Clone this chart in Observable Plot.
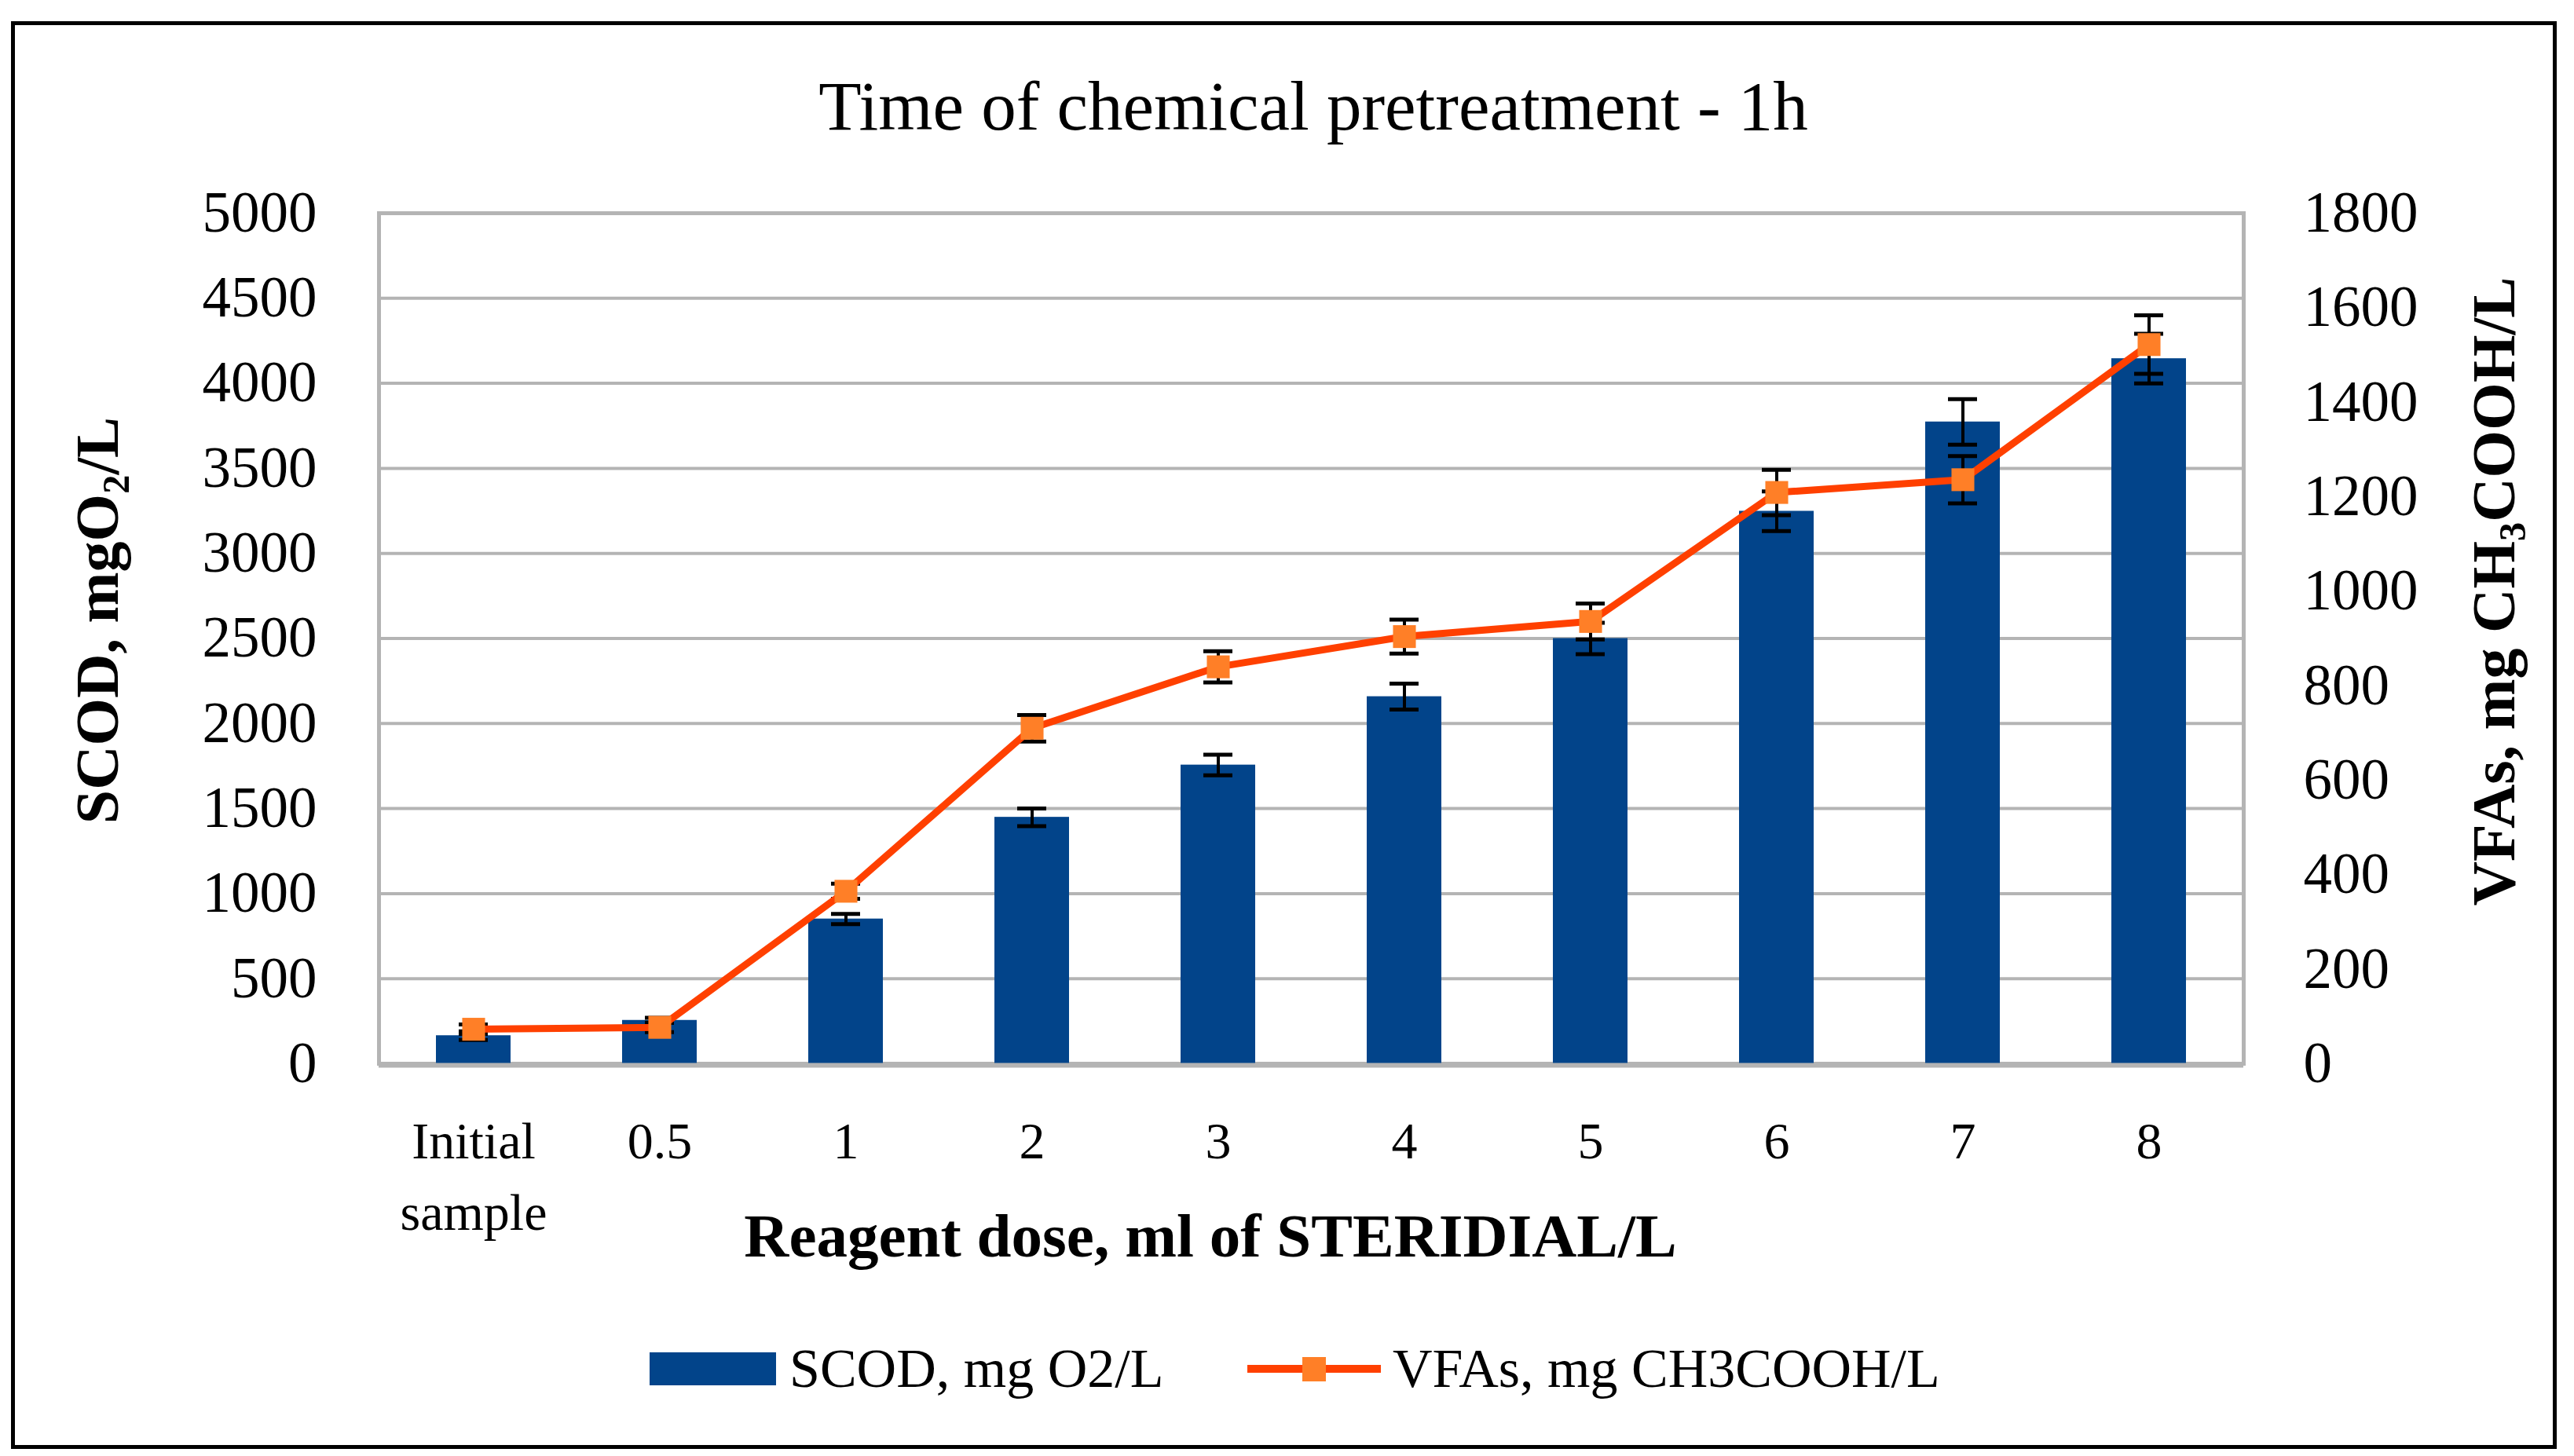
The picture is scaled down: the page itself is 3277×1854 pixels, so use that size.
<!DOCTYPE html>
<html>
<head>
<meta charset="utf-8">
<script src="https://cdn.jsdelivr.net/npm/d3@7"></script>
<script src="https://cdn.jsdelivr.net/npm/@observablehq/plot@0.6"></script>
<style>
  html, body { margin: 0; padding: 0; background: white; }
  #wrap { position: relative; width: 3277px; height: 1854px; font-family: "Liberation Serif", serif; color: black; overflow: hidden; }
  #chart { position: absolute; left: 0; top: 0; }
  .abs { position: absolute; white-space: nowrap; line-height: 1; }
  .ctr { transform: translate(-50%, -50%); }
  .rot { transform: translate(-50%, -50%) rotate(-90deg); }
  sub { font-size: 0.62em; vertical-align: -0.28em; line-height: 0; }
  #border { position: absolute; left: 14px; top: 27px; width: 3231px; height: 1808px; border: 5px solid black; }
</style>
</head>
<body>
<div id="wrap">
  <div id="chart"></div>
  <div id="border"></div>
  <div class="abs ctr" style="left:1672px; top:135px; font-size:89px;">Time of chemical pretreatment - 1h</div>
  <div class="abs ctr" style="left:1541px; top:1573px; font-size:79px; font-weight:bold;">Reagent dose, ml of STERIDIAL/L</div>
  <div class="abs rot" style="left:124px; top:790px; font-size:78px; font-weight:bold;">SCOD, mgO<sub>2</sub>/L</div>
  <div class="abs rot" style="left:3175px; top:753px; font-size:78px; font-weight:bold;">VFAs, mg CH<sub>3</sub>COOH/L</div>
  <div id="legend"></div>
</div>
<script>
// ---- data ----
const categories = ["Initial\nsample", "0.5", "1", "2", "3", "4", "5", "6", "7", "8"];
const scod    = [165, 255, 851, 1449, 1756, 2158, 2500, 3248, 3773, 4145];
const scodErr = [25, 15, 30, 52, 61, 76, 92, 117, 134, 146];
const vfa     = [73, 77, 365, 710, 840, 904, 936, 1209, 1236, 1522];
const vfaErr  = [10, 10, 16, 28, 33, 36, 38, 48, 50, 62];
const scodTicks = [0, 500, 1000, 1500, 2000, 2500, 3000, 3500, 4000, 4500, 5000];
const vfaTicks  = [0, 200, 400, 600, 800, 1000, 1200, 1400, 1600, 1800];
const seriesNames = ["SCOD, mg O2/L", "VFAs, mg CH3COOH/L"];

const barColor = "#02448a", lineColor = "#ff4000", markColor = "#ff7f27", gridColor = "#b4b4b4";
const k = 5000 / 1800; // right-axis value -> left-axis units

const rows = categories.map((c, i) => ({
  cat: c, scod: scod[i], scodErr: scodErr[i], vfa: vfa[i] * k, vfaErr: vfaErr[i] * k
}));

const chart = Plot.plot({
  width: 3277,
  height: 1854,
  marginLeft: 482,
  marginRight: 421,
  marginTop: 271,
  marginBottom: 500,
  style: { fontFamily: "Liberation Serif", fontSize: "73px", color: "black", background: "transparent", overflow: "visible" },
  x: { domain: categories, paddingInner: 0.6, paddingOuter: 0.3, label: null },
  y: { domain: [0, 5000], label: null },
  marks: [
    Plot.gridY(scodTicks, { stroke: gridColor, strokeWidth: 4, strokeOpacity: 1 }),
    Plot.frame({ stroke: gridColor, strokeWidth: 5 }),
    Plot.barY(rows, { x: "cat", y: "scod", fill: barColor }),
    Plot.ruleY([0], { stroke: gridColor, strokeWidth: 6, dy: 2 }),
    // SCOD error bars
    Plot.ruleX(rows, { x: "cat", y1: d => d.scod - d.scodErr, y2: d => d.scod + d.scodErr, stroke: "black", strokeWidth: 4 }),
    Plot.tickY(rows, { x: "cat", y: d => d.scod - d.scodErr, stroke: "black", strokeWidth: 5, insetLeft: 29, insetRight: 29 }),
    Plot.tickY(rows, { x: "cat", y: d => d.scod + d.scodErr, stroke: "black", strokeWidth: 5, insetLeft: 29, insetRight: 29 }),
    // VFA error bars
    Plot.ruleX(rows, { x: "cat", y1: d => d.vfa - d.vfaErr, y2: d => d.vfa + d.vfaErr, stroke: "black", strokeWidth: 4 }),
    Plot.tickY(rows, { x: "cat", y: d => d.vfa - d.vfaErr, stroke: "black", strokeWidth: 5, insetLeft: 29, insetRight: 29 }),
    Plot.tickY(rows, { x: "cat", y: d => d.vfa + d.vfaErr, stroke: "black", strokeWidth: 5, insetLeft: 29, insetRight: 29 }),
    // VFA line and markers
    Plot.line(rows, { x: "cat", y: "vfa", stroke: lineColor, strokeWidth: 9 }),
    Plot.dot(rows, { x: "cat", y: "vfa", symbol: "square", r: 16.4, fill: markColor, stroke: "none" }),
    // axes
    Plot.axisY(scodTicks, { anchor: "left", tickSize: 0, tickPadding: 79, fontSize: 73, label: null,
      tickFormat: d => String(d) }),
    Plot.axisY(vfaTicks.map(v => v * k), { anchor: "right", tickSize: 0, tickPadding: 76, fontSize: 73, label: null,
      tickFormat: d => String(Math.round(d / k)) }),
    Plot.axisX({ anchor: "bottom", tickSize: 0, tickPadding: 56, fontSize: 66, lineHeight: 1.38, label: null })
  ]
});
document.getElementById("chart").appendChild(chart);

// ---- legend ----
const legend = document.getElementById("legend");
legend.innerHTML = `
  <div style="position:absolute; left:827px; top:1722px; width:161px; height:42px; background:${barColor};"></div>
  <div class="abs" style="left:1005px; top:1743px; transform:translateY(-50%); font-size:70px;">${seriesNames[0]}</div>
  <svg style="position:absolute; left:1588px; top:1713px;" width="170" height="60">
    <line x1="0" x2="170" y1="30" y2="30" stroke="${lineColor}" stroke-width="10"/>
    <rect x="70" y="15" width="30" height="31" fill="${markColor}"/>
  </svg>
  <div class="abs" style="left:1773px; top:1743px; transform:translateY(-50%); font-size:70px;">${seriesNames[1]}</div>
`;
</script>
</body>
</html>
